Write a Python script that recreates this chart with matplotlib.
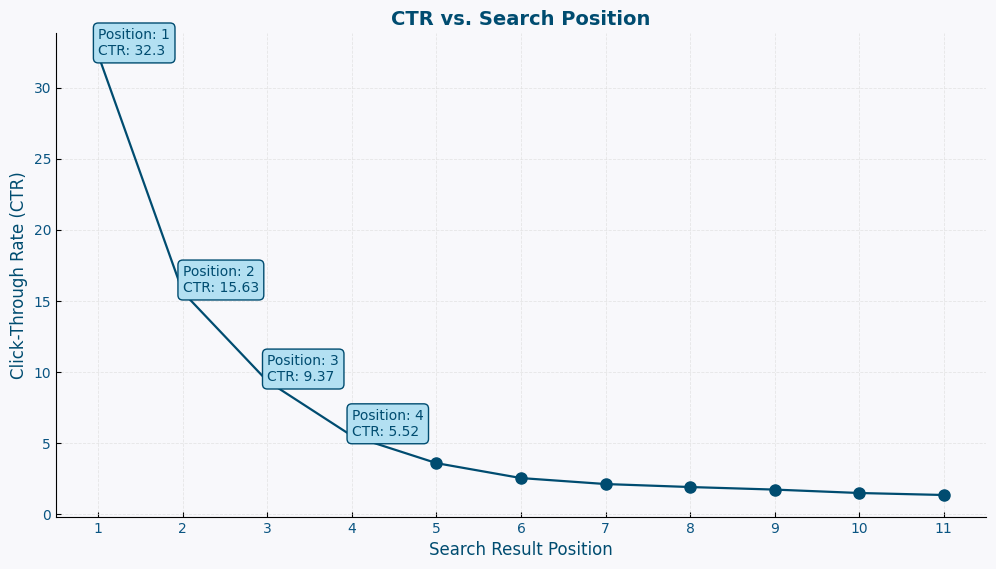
import matplotlib
matplotlib.use("Agg")
import matplotlib.pyplot as plt

positions = [1, 2, 3, 4, 5, 6, 7, 8, 9, 10, 11]
ctr = [32.3, 15.63, 9.37, 5.52, 3.6, 2.55, 2.13, 1.92, 1.74, 1.5, 1.36]
labeled = 4

dark = "#004c70"
bg = "#f8f8fb"

fig, ax = plt.subplots(figsize=(9.96, 5.69), dpi=100)
fig.patch.set_facecolor(bg)
ax.set_facecolor(bg)

# markers only where there is no label box
ax.plot(positions, ctr, color=dark, linewidth=1.6, marker="o", markersize=8,
        markevery=list(range(labeled, len(positions))), zorder=2)

for i in range(labeled):
    ax.annotate("Position: %d\nCTR: %s" % (positions[i], ctr[i]),
                xy=(positions[i], ctr[i]), xytext=(0, -2.2), textcoords="offset points",
                ha="left", va="bottom", fontsize=10, color=dark, zorder=5,
                bbox=dict(boxstyle="round,pad=0.35", facecolor="#b3e0f2", edgecolor=dark))

ax.set_title("CTR vs. Search Position", fontsize=14, fontweight="bold", color=dark)
ax.set_xlabel("Search Result Position", fontsize=12, color=dark)
ax.set_ylabel("Click-Through Rate (CTR)", fontsize=12, color=dark)
ax.set_xticks(positions)
ax.tick_params(direction="in", labelcolor="#0a5582", color="black", labelsize=10)
ax.grid(True, linestyle="--", linewidth=0.6, color="#dddddd", alpha=0.7)
ax.spines["top"].set_visible(False)
ax.spines["right"].set_visible(False)

plt.subplots_adjust(left=0.0562, right=0.99, top=0.942, bottom=0.0914)
plt.savefig("out.png", facecolor=bg)
